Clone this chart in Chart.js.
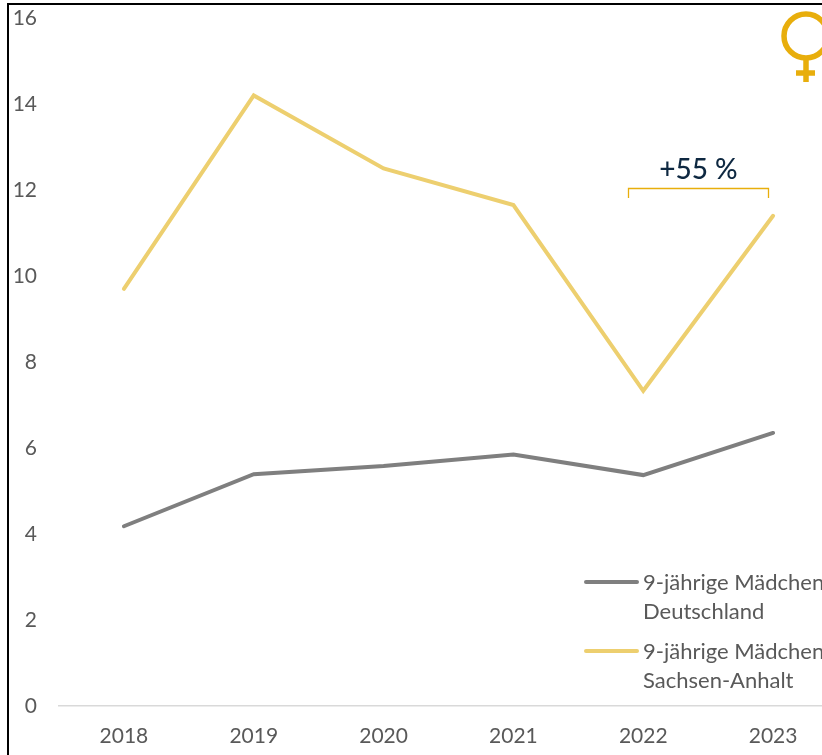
<!DOCTYPE html>
<html><head><meta charset="utf-8">
<style>
html,body{margin:0;padding:0;width:822px;height:755px;overflow:hidden;background:#fff}
#wrap{position:absolute;left:0;top:0;width:838px;height:755px}
</style>
<script src="https://cdn.jsdelivr.net/npm/chart.js@4"></script>
</head><body>
<div id="wrap"><canvas id="c"></canvas></div>
<script>
const categories = ['2018','2019','2020','2021','2022','2023'];
const deutschland = [4.18,5.39,5.58,5.85,5.37,6.35];
const sachsenAnhalt = [9.7,14.2,12.5,11.65,7.33,11.4];
const seriesNames = [['9-jährige Mädchen','Deutschland'],['9-jährige Mädchen','Sachsen-Anhalt']];
const annotationText = '+55 %';
const FONT = 'Lato, Carlito, sans-serif';

const decor = {
  id:'decor',
  afterDraw(chart){
    const c = chart.ctx;
    c.save();
    c.strokeStyle='#000'; c.lineWidth=2;
    c.beginPath(); c.moveTo(8,755); c.lineTo(8,4); c.lineTo(838,4); c.stroke();
    c.strokeStyle='#E8AE0C'; c.lineWidth=5.5;
    c.beginPath(); c.arc(806,36,22,0,Math.PI*2); c.stroke();
    c.beginPath(); c.moveTo(806,60); c.lineTo(806,82); c.moveTo(796,73); c.lineTo(815,73); c.stroke();
    c.lineWidth=1.3;
    c.beginPath(); c.moveTo(628.5,198); c.lineTo(628.5,188.5); c.lineTo(768.5,188.5); c.lineTo(768.5,198); c.stroke();
    c.fillStyle='#0E2841'; c.font='500 28px '+FONT; c.textAlign='center'; c.textBaseline='middle';
    c.fillText(annotationText,698.5,170);
    const colours=[chart.data.datasets[0].borderColor,chart.data.datasets[1].borderColor];
    const ys=[582,651];
    c.font='22px '+FONT; c.textAlign='left'; c.fillStyle='#595959';
    seriesNames.forEach((lines,i)=>{
      c.strokeStyle=colours[i]; c.lineWidth=4; c.lineCap='round';
      c.beginPath(); c.moveTo(586,ys[i]); c.lineTo(637,ys[i]); c.stroke();
      lines.forEach((t,j)=>c.fillText(t,643,ys[i]+1+j*29));
    });
    c.restore();
  }
};

new Chart(document.getElementById('c'),{
  type:'line',
  data:{labels:categories,datasets:[
    {label:'9-jährige Mädchen Deutschland',data:deutschland,borderColor:'#7F7F7F',borderWidth:4,pointRadius:0,tension:0,borderCapStyle:'round',clip:false},
    {label:'9-jährige Mädchen Sachsen-Anhalt',data:sachsenAnhalt,borderColor:'#EDCF6F',borderWidth:4,pointRadius:0,tension:0,borderCapStyle:'round',clip:false}
  ]},
  options:{
    responsive:true,maintainAspectRatio:false,animation:false,
    layout:{padding:{top:18,left:0,right:0,bottom:0}},
    plugins:{legend:{display:false},tooltip:{enabled:false}},
    scales:{
      x:{offset:true,
        grid:{display:false,drawTicks:false},
        border:{color:'#D9D9D9',width:1.5},
        ticks:{color:'#595959',font:{family:FONT,size:21},padding:18,maxRotation:0,autoSkip:false},
        afterFit(s){s.height=49;}
      },
      y:{min:0,max:16,
        grid:{display:false,drawTicks:false},
        border:{display:false},
        ticks:{stepSize:2,color:'#595959',font:{family:FONT,size:21},padding:22},
        afterFit(s){s.width=59;s.paddingTop=0;s.paddingBottom=0;}
      }
    }
  },
  plugins:[decor]
});
</script>
</body></html>
